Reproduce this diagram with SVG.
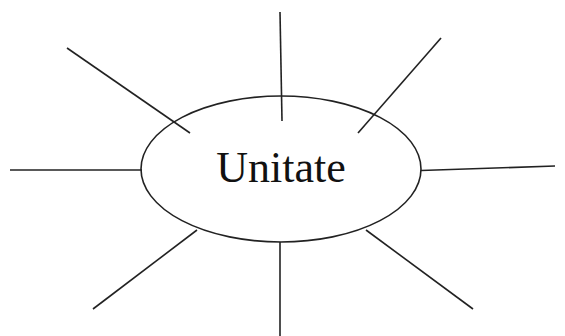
<svg xmlns="http://www.w3.org/2000/svg" width="565" height="336" viewBox="0 0 565 336">
<style>
.ln{stroke:#222;stroke-width:1.6;fill:none;stroke-linecap:butt}
.nd{fill:#fff;stroke:#222;stroke-width:1.6}
.lb{font-family:"Liberation Serif","Times New Roman",serif;font-size:44px;fill:#111}
</style>
<rect width="565" height="336" fill="#fff"/>
<g id="connectors">
<line class="ln" x1="280" y1="12" x2="282" y2="121"/>
<line class="ln" x1="67" y1="48" x2="190" y2="133"/>
<line class="ln" x1="441" y1="38" x2="358" y2="133"/>
<line class="ln" x1="10" y1="170" x2="142" y2="170"/>
<line class="ln" x1="421" y1="170.5" x2="555" y2="166"/>
<line class="ln" x1="197" y1="230" x2="93" y2="309"/>
<line class="ln" x1="280" y1="242" x2="280" y2="336"/>
<line class="ln" x1="366" y1="230" x2="473" y2="309"/>
</g>
<g id="unitate">
<ellipse class="nd" cx="281" cy="169" rx="140" ry="73" fill="none" style="fill:none"/>
<text class="lb" x="281" y="182" text-anchor="middle">Unitate</text>
</g>
</svg>
